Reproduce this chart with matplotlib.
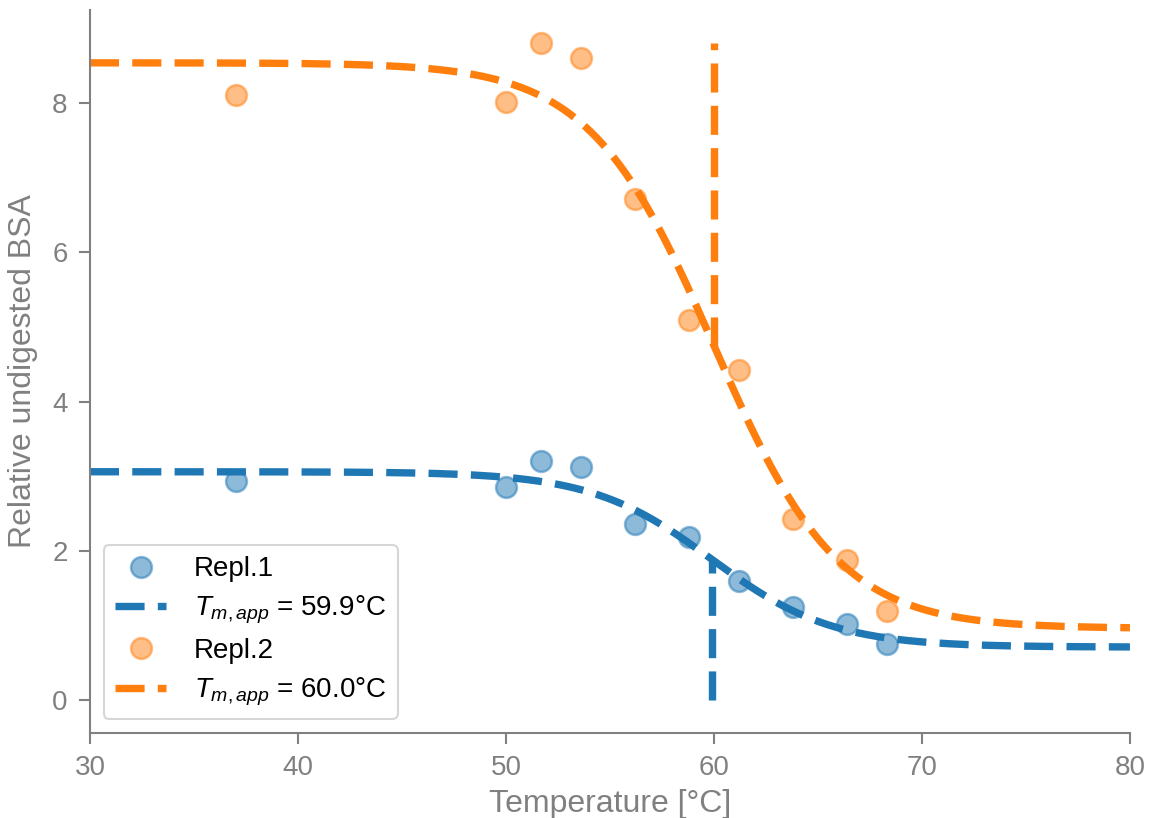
import numpy as np
import matplotlib
matplotlib.use("Agg")
import matplotlib.pyplot as plt

plt.rcParams['font.family'] = ['Liberation Sans', 'DejaVu Sans']
plt.rcParams['mathtext.fontset'] = 'custom'
plt.rcParams['mathtext.rm'] = 'Liberation Sans'
plt.rcParams['mathtext.it'] = 'Liberation Sans:italic'

# Data
temperature = [37.0, 50.0, 51.7, 53.6, 56.2, 58.8, 61.2, 63.8, 66.4, 68.3]
repl1 = [2.93, 2.85, 3.20, 3.13, 2.36, 2.19, 1.60, 1.25, 1.02, 0.75]
repl2 = [8.11, 8.02, 8.80, 8.60, 6.72, 5.10, 4.42, 2.43, 1.88, 1.20]

# Fitted Boltzmann parameters (top, bottom, Tm, slope)
fit1 = (3.06, 0.71, 59.9, 2.9)
fit2 = (8.54, 0.96, 60.0, 3.0)
labels_data = ["Repl.1", "Repl.2"]
labels_fit = [r"$T_{m,app}$ = 59.9°C", r"$T_{m,app}$ = 60.0°C"]

blue = "#1f77b4"
orange = "#ff7f0e"
grey = "#808080"


def boltz(t, top, bottom, tm, slope):
    return bottom + (top - bottom) / (1.0 + np.exp((t - tm) / slope))


fig = plt.figure(figsize=(11.53, 8.18), dpi=100)
ax = fig.add_axes([0.078, 0.104, 0.902, 0.884])

tt = np.linspace(30, 80, 400)
dash = (3.95, 1.8)
lw = 5.3

ax.plot(temperature, repl1, 'o', color=blue, alpha=0.5, ms=15, mew=1.8,
        label=labels_data[0], zorder=3)
ax.plot(tt, boltz(tt, *fit1), '--', color=blue, lw=lw, dashes=dash,
        label=labels_fit[0], zorder=2)
ax.plot(temperature, repl2, 'o', color=orange, alpha=0.5, ms=15, mew=1.8,
        label=labels_data[1], zorder=3)
ax.plot(tt, boltz(tt, *fit2), '--', color=orange, lw=lw, dashes=dash,
        label=labels_fit[1], zorder=2)

# vertical Tm markers
ax.plot([fit1[2], fit1[2]], [0, boltz(fit1[2], *fit1)], '--', color=blue,
        lw=lw, dashes=dash, zorder=2)
ax.plot([fit2[2], fit2[2]], [boltz(fit2[2], *fit2), max(repl2)], '--',
        color=orange, lw=lw, dashes=dash, zorder=2)

ax.set_xlim(30, 80)
ax.set_ylim(-0.44, 9.25)
ax.set_xticks([30, 40, 50, 60, 70, 80])
ax.set_yticks([0, 2, 4, 6, 8])

for s in ['top', 'right']:
    ax.spines[s].set_visible(False)
for s in ['left', 'bottom']:
    ax.spines[s].set_color(grey)
    ax.spines[s].set_linewidth(1.5)

ax.tick_params(axis='both', colors=grey, labelsize=20, length=8, width=1.5,
               pad=8)
ax.set_xlabel("Temperature [°C]", fontsize=23, color=grey, labelpad=6)
ax.set_ylabel("Relative undigested BSA", fontsize=23, color=grey, labelpad=10)

leg = ax.legend(loc='lower left', fontsize=20, frameon=True,
                borderpad=0.4, labelspacing=0.42, handlelength=1.85,
                handletextpad=1.0, borderaxespad=0.5)
leg.get_frame().set_edgecolor('#cccccc')
leg.get_frame().set_linewidth(1.5)

fig.savefig("out.png", dpi=100)
